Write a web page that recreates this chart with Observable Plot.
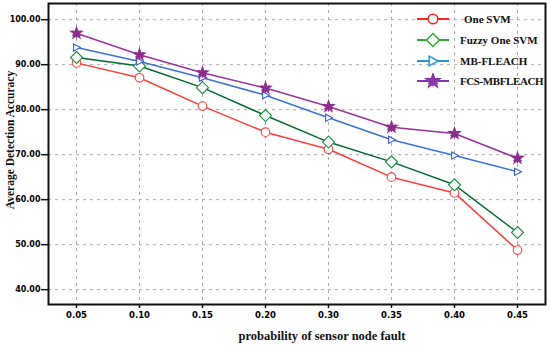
<!DOCTYPE html>
<html><head><meta charset="utf-8">
<script src="https://cdn.jsdelivr.net/npm/d3@7"></script>
<script src="https://cdn.jsdelivr.net/npm/@observablehq/plot@0.6"></script>
<style>
body{margin:0;background:#fff}
#chart{position:relative;width:550px;height:350px}
#legend{position:absolute;left:416px;top:9px;font-family:"Liberation Serif",serif;font-weight:bold;font-size:11px;color:#111;white-space:nowrap}
#legend .row{display:flex;align-items:center;height:20.7px}
#legend svg{display:block;margin-right:10px}
.title{position:absolute;font-family:"Liberation Serif",serif;font-weight:bold;color:#111;white-space:nowrap}
#xtitle{left:322px;top:336px;font-size:12.5px;transform:translate(-50%,-50%)}
#ytitle{left:10px;top:140px;font-size:11.5px;transform:translate(-50%,-50%) rotate(-90deg)}
</style></head><body><div id="chart"><div id="legend"></div><div id="xtitle" class="title"></div><div id="ytitle" class="title"></div></div>
<script>
const probabilities = ["0.05","0.10","0.15","0.20","0.30","0.35","0.40","0.45"];
const seriesNames = ["One SVM","Fuzzy One SVM","MB-FLEACH","FCS-MBFLEACH"];
const oneSVM      = [90.4, 87.1, 80.8, 75.0, 71.2, 65.0, 61.5, 48.8];
const fuzzyOneSVM = [91.6, 89.7, 84.9, 78.7, 72.8, 68.4, 63.3, 52.7];
const mbFleach    = [93.8, 90.7, 87.1, 83.2, 78.2, 73.3, 69.8, 66.2];
const fcsMbfleach = [97.0, 92.2, 88.2, 84.8, 80.7, 76.1, 74.7, 69.2];
const yTicks = [40, 50, 60, 70, 80, 90, 100];
const xTitle = "probability of sensor node fault";
const yTitle = "Average Detection Accuracy";

const triRight = {draw(ctx, size){const s=Math.sqrt(size/Math.PI);ctx.moveTo(-s*0.8,-s);ctx.lineTo(s*1.1,0);ctx.lineTo(-s*0.8,s);ctx.closePath();}};
const diamondSq = {draw(ctx, size){const s=Math.sqrt(size/Math.PI);ctx.moveTo(0,-s);ctx.lineTo(s,0);ctx.lineTo(0,s);ctx.lineTo(-s,0);ctx.closePath();}};

const styles = [
  {line:"#ff3b3b", mark:"#ff3b3b", legend:"#ff2222", symbol:d3.symbolCircle, r:4.3, fill:"white"},
  {line:"#006a35", mark:"#13903f", legend:"#2ea836", symbol:diamondSq, r:6, fill:"white"},
  {line:"#3a72d6", mark:"#3a5ad0", legend:"#2196d8", symbol:triRight, r:3.6, fill:"white"},
  {line:"#993399", mark:"#8e2c8e", legend:"#8a35a8", symbol:d3.symbolStar, r:3.6, fill:"#8e2c8e"}
];
const values = [oneSVM, fuzzyOneSVM, mbFleach, fcsMbfleach];
const data = values.flatMap((arr, i) => arr.map((v, j) => ({series: seriesNames[i], p: probabilities[j], v})));

const marks = [
  Plot.gridX(probabilities, {stroke:"#aaa", strokeOpacity:1, strokeDasharray:"3,4"}),
  Plot.gridY(yTicks, {stroke:"#aaa", strokeOpacity:1, strokeDasharray:"3,4"}),
  Plot.axisX({tickSize:4, tickPadding:3, fontSize:8.5, fontWeight:"bold", fontFamily:"DejaVu Sans", label:null, stroke:"#111", strokeWidth:1.5}),
  Plot.axisY({ticks:yTicks, tickFormat:d3.format(".2f"), tickSize:7, tickPadding:1, fontSize:8, fontWeight:"bold", fontFamily:"DejaVu Sans", label:null, stroke:"#111", strokeWidth:1.5}),
];
values.forEach((arr, i) => {
  const d = data.filter(e => e.series === seriesNames[i]);
  const st = styles[i];
  marks.push(Plot.line(d, {x:"p", y:"v", stroke:st.line, strokeWidth:1.5}));
  marks.push(Plot.dot(d, {x:"p", y:"v", symbol:st.symbol, r:st.r, stroke:st.mark, fill:st.fill, strokeWidth:1.1}));
  if (i === 3) marks.push(Plot.dot(d, {x:"p", y:"v", symbol:"asterisk", r:4.6, stroke:st.mark, strokeWidth:1.3}));
});
marks.push(Plot.frame({stroke:"#111", strokeWidth:2}));

const chart = Plot.plot({
  width:550, height:350,
  marginLeft:48, marginTop:3, marginRight:5, marginBottom:46,
  x:{type:"point", domain:probabilities, padding:0.39},
  y:{domain:[36.7, 103.6]},
  marks
});
document.getElementById("chart").prepend(chart);
document.getElementById("xtitle").textContent = xTitle;
document.getElementById("ytitle").textContent = yTitle;

// legend
const legend = document.getElementById("legend");
seriesNames.forEach((name, i) => {
  const st = styles[i];
  const row = document.createElement("div"); row.className = "row";
  const svg = d3.create("svg").attr("width", 34).attr("height", 16);
  svg.append("line").attr("x1",1).attr("x2",33).attr("y1",8).attr("y2",8).attr("stroke",st.legend).attr("stroke-width",2);
  const size = (i===1? 6.5: i===3? 4.3 : 4.8)**2*Math.PI;
  svg.append("path").attr("transform","translate(17,8)").attr("d", d3.symbol(st.symbol, size)()).attr("fill", i===3? st.legend : "white").attr("stroke", st.legend).attr("stroke-width",1.5);
  if (i===3) svg.append("path").attr("transform","translate(17,8)").attr("d", d3.symbol(d3.symbolAsterisk, 5.2**2*Math.PI)()).attr("stroke", st.legend).attr("stroke-width",1.5);
  row.append(svg.node());
  const t = document.createElement("span"); t.textContent = name; if (i===0) t.style.marginLeft = "4px";
  if (i===3) t.style.letterSpacing = "-0.4px";
  row.append(t);
  legend.append(row);
});
</script></body></html>
